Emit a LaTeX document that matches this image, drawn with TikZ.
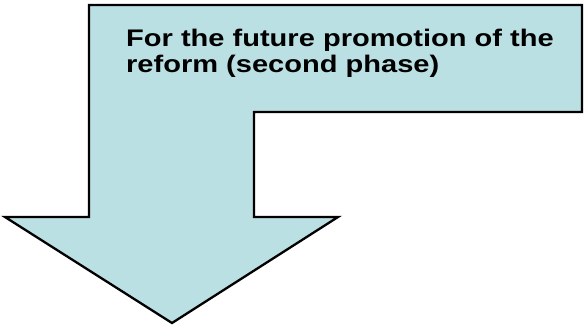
\documentclass[tikz,border=0pt]{standalone}
\usepackage{fontspec}
\setmainfont{Liberation Sans}
\newfontfamily\widefont[FakeStretch=1.21]{Liberation Sans}
\definecolor{arrowfill}{RGB}{186,224,227}
\begin{document}
\begin{tikzpicture}[x=1bp,y=-1bp,
  arrowshape/.style={draw=black,line width=2.3bp,fill=arrowfill,line join=miter},
  labeltext/.style={font=\widefont\bfseries\fontsize{24bp}{26bp}\selectfont,inner sep=0pt,align=left,text=black}]
\useasboundingbox (0,0) rectangle (584,325);
\draw[arrowshape] (89,5) -- (582,5) -- (582,112) -- (254,112) -- (254,217)
  -- (338,217) -- (172,323) -- (5,217) -- (89,217) -- cycle;
\node[labeltext,anchor=base west] (title1) at (126,46) {For the future promotion of the};
\node[labeltext,anchor=base west] (title2) at (126,72) {reform (second phase)};
\end{tikzpicture}
\end{document}
